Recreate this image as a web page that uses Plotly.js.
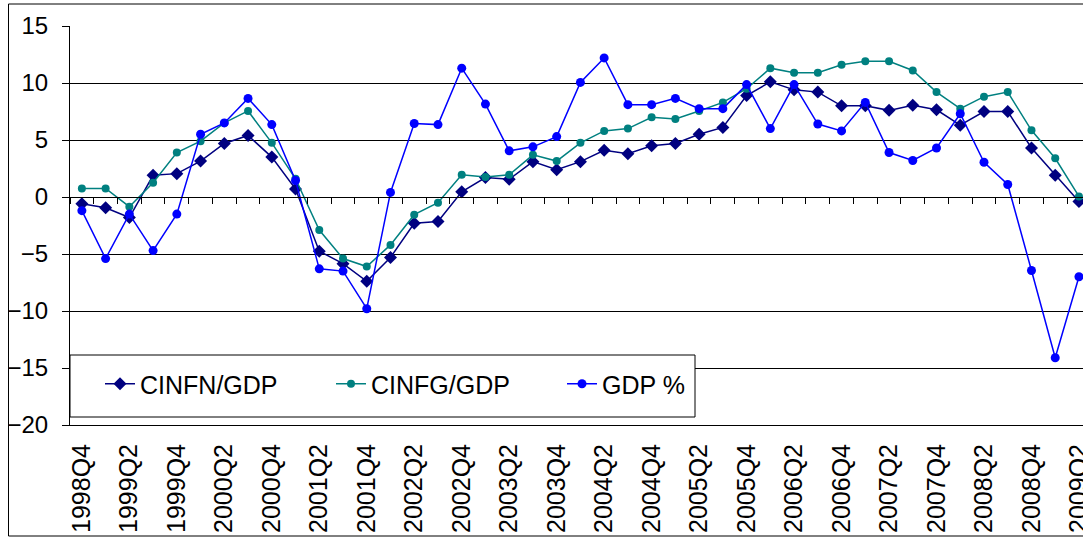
<!DOCTYPE html>
<html>
<head>
<meta charset="utf-8">
<script src="https://cdn.plot.ly/plotly-3.0.1.min.js"></script>
<style>
html,body{margin:0;padding:0;background:#fff;overflow:hidden;}
#chart{width:1083px;height:537px;}
</style>
</head>
<body>
<div id="chart"></div>
<script>
const quarters = ["1998Q4",
 "1999Q1","1999Q2","1999Q3","1999Q4",
 "2000Q1","2000Q2","2000Q3","2000Q4",
 "2001Q1","2001Q2","2001Q3","2001Q4",
 "2002Q1","2002Q2","2002Q3","2002Q4",
 "2003Q1","2003Q2","2003Q3","2003Q4",
 "2004Q1","2004Q2","2004Q3","2004Q4",
 "2005Q1","2005Q2","2005Q3","2005Q4",
 "2006Q1","2006Q2","2006Q3","2006Q4",
 "2007Q1","2007Q2","2007Q3","2007Q4",
 "2008Q1","2008Q2","2008Q3","2008Q4",
 "2009Q1","2009Q2"];

const tickLabels = ["1998Q4","1999Q2","1999Q4","2000Q2","2000Q4","2001Q2","2001Q4",
 "2002Q2","2002Q4","2003Q2","2003Q4","2004Q2","2004Q4","2005Q2","2005Q4",
 "2006Q2","2006Q4","2007Q2","2007Q4","2008Q2","2008Q4","2009Q2"];

const cinfn = [-0.6,-0.95,-1.8,1.9,2.05,3.15,4.7,5.4,3.5,0.7,
 -4.75,-5.85,-7.4,-5.3,-2.3,-2.15,0.45,1.7,1.55,3.1,
 2.4,3.1,4.1,3.8,4.5,4.7,5.5,6.1,8.9,10.1,
 9.4,9.2,8.0,8.0,7.6,8.05,7.65,6.3,7.5,7.5,
 4.3,1.9,-0.4];

const cinfg = [0.75,0.75,-0.85,1.25,3.9,4.9,6.5,7.55,4.75,1.6,
 -2.9,-5.4,-6.1,-4.2,-1.55,-0.5,1.95,1.75,1.95,3.7,
 3.15,4.75,5.8,6.0,7.0,6.85,7.55,8.3,9.5,11.3,
 10.9,10.9,11.6,11.9,11.9,11.1,9.2,7.75,8.8,9.2,
 5.85,3.4,0.05];

const gdp = [-1.2,-5.4,-1.5,-4.7,-1.5,5.5,6.5,8.65,6.35,1.45,
 -6.3,-6.5,-9.8,0.4,6.45,6.35,11.3,8.15,4.05,4.4,
 5.3,10.05,12.2,8.1,8.1,8.65,7.75,7.75,9.86,6.0,
 9.86,6.4,5.8,8.3,3.9,3.2,4.3,7.3,3.05,1.1,
 -6.45,-14.1,-7.0];

const seriesNames = ["CINFN/GDP","CINFG/GDP","GDP %"];

const FONT = "'Liberation Sans', Arial, sans-serif";

const traces = [
 {x: quarters, y: cinfn, name: seriesNames[0], type: 'scatter', mode: 'lines+markers',
  line: {color: '#000080', width: 1.5},
  marker: {symbol: 'diamond', size: 10, color: '#000080'}},
 {x: quarters, y: cinfg, name: seriesNames[1], type: 'scatter', mode: 'lines+markers',
  line: {color: '#008080', width: 1.5},
  marker: {symbol: 'circle', size: 8, color: '#008080'}},
 {x: quarters, y: gdp, name: seriesNames[2], type: 'scatter', mode: 'lines+markers',
  line: {color: '#0000FF', width: 1.5},
  marker: {symbol: 'circle', size: 9, color: '#0000FF'}},
 {x: quarters, y: quarters.map(() => null), xaxis: 'x2', yaxis: 'y',
  type: 'scatter', mode: 'lines', showlegend: false, hoverinfo: 'skip'}
];

const yMin = -20, yMax = 15;
// plot area in pixels: left 70, top 26, width 1013, height 399
const PW = 1013, PH = 399, PL = 70, PB = 425;
const px = v => (v - PL) / PW;
const py = v => (PB - v) / PH;

const layout = {
 width: 1083, height: 537,
 margin: {l: 70, r: 0, t: 26, b: 112, pad: 0},
 paper_bgcolor: '#ffffff', plot_bgcolor: '#ffffff',
 font: {family: FONT, color: '#000000', size: 24},
 showlegend: true,
 xaxis: {
  type: 'category', categoryorder: 'array', categoryarray: quarters,
  range: [-0.5, 42.17],
  tickmode: 'array', tickvals: tickLabels, ticktext: tickLabels,
  tickangle: -90, ticks: '', showgrid: false, zeroline: false,
  showline: true, linecolor: '#000000', linewidth: 1,
  tickfont: {family: FONT, size: 25, color: '#000000'},
  ticklabelstandoff: 8
 },
 xaxis2: {
  type: 'category', categoryorder: 'array', categoryarray: quarters,
  range: [-0.5, 42.17], overlaying: 'x', anchor: 'free',
  position: (0 - yMin) / (yMax - yMin),
  tickmode: 'array', tickvals: quarters, tickson: 'boundaries',
  ticks: 'outside', ticklen: 6, tickcolor: '#000000', tickwidth: 1,
  showticklabels: false, showgrid: false, zeroline: false,
  showline: true, linecolor: '#000000', linewidth: 1
 },
 yaxis: {
  range: [yMin, yMax], tickmode: 'linear', tick0: 0, dtick: 5,
  showgrid: true, gridcolor: '#000000', gridwidth: 1,
  zeroline: true, zerolinecolor: '#000000', zerolinewidth: 1,
  showline: true, linecolor: '#000000', linewidth: 1,
  ticks: 'outside', ticklen: 7, tickcolor: '#000000',
  tickfont: {family: FONT, size: 24, color: '#000000'},
  ticklabelstandoff: 9
 },
 legend: {
  orientation: 'h', x: px(100), xanchor: 'left', y: py(384), yanchor: 'middle',
  bgcolor: 'rgba(0,0,0,0)', borderwidth: 0,
  entrywidth: 186, entrywidthmode: 'pixels',
  font: {family: FONT, size: 25, color: '#000000'},
  traceorder: 'normal'
 },
 shapes: [
  {type: 'rect', xref: 'paper', yref: 'paper', layer: 'below',
   x0: px(8.5), x1: 1.05, y0: py(536), y1: py(4),
   line: {color: '#000000', width: 1}, fillcolor: 'rgba(0,0,0,0)'},
  {type: 'rect', xref: 'paper', yref: 'paper', layer: 'above',
   x0: px(70), x1: px(695), y0: py(417), y1: py(355),
   line: {color: '#000000', width: 1}, fillcolor: '#ffffff'}
 ]
};

Plotly.newPlot('chart', traces, layout, {displayModeBar: false, staticPlot: true});
</script>
</body>
</html>
